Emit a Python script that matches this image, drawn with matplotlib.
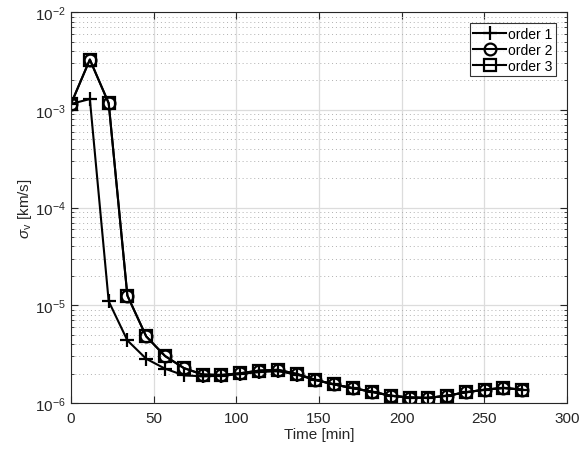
import numpy as np
import matplotlib.pyplot as plt
from matplotlib.ticker import LogLocator, NullFormatter

plt.rcParams['font.family'] = ['Liberation Sans', 'DejaVu Sans']
plt.rcParams['mathtext.fontset'] = 'custom'
plt.rcParams['mathtext.rm'] = 'Liberation Sans'
plt.rcParams['mathtext.it'] = 'Liberation Sans:italic'

# time of each sample [min]
time_min = [0, 11.4, 22.8, 34.1, 45.5, 56.9, 68.3, 79.6, 91.0, 102.4, 113.8, 125.1,
            136.5, 147.9, 159.3, 170.6, 182.0, 193.4, 204.8, 216.1, 227.5, 238.9,
            250.3, 261.6, 273.0]

# sigma_v [km/s] per filter order
order1 = [1.15e-3, 1.29e-3, 1.10e-5, 4.38e-6, 2.84e-6, 2.25e-6, 1.92e-6, 1.88e-6,
          1.90e-6, 1.98e-6, 2.08e-6, 2.12e-6, 1.96e-6, 1.72e-6, 1.55e-6, 1.42e-6,
          1.30e-6, 1.19e-6, 1.14e-6, 1.13e-6, 1.19e-6, 1.29e-6, 1.37e-6, 1.43e-6,
          1.37e-6]
order2 = [1.15e-3, 3.27e-3, 1.17e-3, 1.26e-5, 4.81e-6, 3.03e-6, 2.28e-6, 1.96e-6,
          1.94e-6, 2.02e-6, 2.15e-6, 2.19e-6, 1.99e-6, 1.73e-6, 1.55e-6, 1.42e-6,
          1.31e-6, 1.19e-6, 1.14e-6, 1.13e-6, 1.19e-6, 1.29e-6, 1.37e-6, 1.43e-6,
          1.37e-6]
order3 = [1.15e-3, 3.27e-3, 1.17e-3, 1.26e-5, 4.81e-6, 3.03e-6, 2.28e-6, 1.96e-6,
          1.94e-6, 2.02e-6, 2.15e-6, 2.19e-6, 1.99e-6, 1.73e-6, 1.55e-6, 1.42e-6,
          1.31e-6, 1.19e-6, 1.14e-6, 1.13e-6, 1.19e-6, 1.29e-6, 1.37e-6, 1.43e-6,
          1.37e-6]

fig = plt.figure(figsize=(5.82, 4.52), dpi=100)
ax = fig.add_axes([0.122, 0.106, 0.852, 0.865])

ax.semilogy(time_min, order1, 'k-', marker='+', ms=10, mew=1.6, lw=1.5, label='order 1')
ax.semilogy(time_min, order2, 'k-', marker='o', ms=8.5, mew=1.6, mfc='none', lw=1.5, label='order 2')
ax.semilogy(time_min, order3, 'k-', marker='s', ms=8.5, mew=1.6, mfc='none', lw=1.5, label='order 3')

ax.set_xlim(0, 300)
ax.set_ylim(1e-6, 1e-2)
ax.set_xticks([0, 50, 100, 150, 200, 250, 300])
ax.yaxis.set_major_locator(LogLocator(base=10, numticks=10))
ax.yaxis.set_minor_locator(LogLocator(base=10, subs=np.arange(2, 10), numticks=20))
ax.yaxis.set_minor_formatter(NullFormatter())

ax.grid(True, which='major', color='#dcdcdc', lw=0.9, ls='-')
ax.grid(True, which='minor', axis='y', color='#b0b0b0', lw=0.7, ls=(0, (1, 3)))
ax.set_axisbelow(True)

ax.tick_params(which='both', direction='in', top=True, right=True, colors='#262626',
               labelsize=11, labelcolor='#262626')
ax.tick_params(which='major', length=5)
ax.tick_params(which='minor', length=2.5)
ax.tick_params(axis='x', pad=6)
for s in ax.spines.values():
    s.set_color('#262626')
    s.set_linewidth(0.8)

ax.set_xlabel('Time [min]', fontsize=11, color='#262626', labelpad=1)
ax.set_ylabel(r'$\sigma_{\rm v}$ [km/s]', fontsize=11, color='#262626', labelpad=1)

leg = ax.legend(loc='upper right', fontsize=10, frameon=True, fancybox=False,
                edgecolor='black', borderpad=0.25, labelspacing=0.15, handlelength=2.4,
                handletextpad=0.1, borderaxespad=0.8)
leg.get_frame().set_linewidth(0.8)

fig.savefig('out.png', dpi=100)
